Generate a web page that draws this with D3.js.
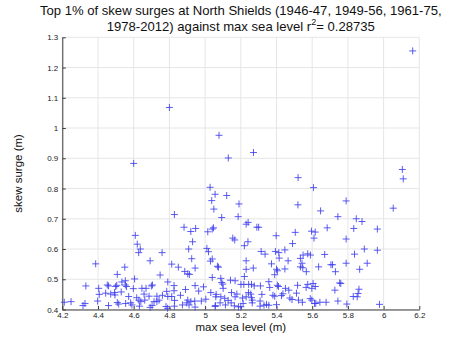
<!DOCTYPE html>
<html>
<head>
<meta charset="utf-8">
<script src="https://cdn.jsdelivr.net/npm/d3@7"></script>
<style>
  html, body { margin: 0; padding: 0; background: #fff; }
  svg { display: block; font-family: "Liberation Sans", Arial, sans-serif; }
</style>
</head>
<body>
<svg id="chart" width="465" height="350"></svg>
<script>
// Max sea level (m) of each event
const seaLevel = [
  4.600, 4.800, 5.078, 5.130, 6.163, 5.271, 5.521, 6.105, 6.110,
  5.607, 5.190, 5.520, 5.790, 6.054, 5.647, 5.185, 5.744, 5.847, 5.879,
  5.230, 5.241, 5.290, 5.300, 5.833, 5.965, 5.684, 5.505, 5.596, 5.617,
  5.398, 5.155, 5.166, 5.240, 5.220, 5.490, 5.610, 5.790, 5.447, 5.314,
  5.336, 5.394, 5.413, 5.892, 5.965, 5.575, 5.590, 5.549, 5.534, 5.670,
  5.837, 5.415, 5.465, 5.230, 5.372, 5.543, 5.705, 5.714, 5.790, 5.908,
  5.270, 5.230, 5.400, 5.405, 5.534, 5.547, 5.447, 5.636, 5.567, 5.730,
  5.866, 5.220, 5.390, 5.168, 5.357, 5.605, 5.754, 5.760, 5.201, 5.217,
  5.244, 5.260, 5.275, 5.310, 5.362, 5.405, 5.411, 5.450, 5.469, 5.518,
  5.566, 5.575, 5.598, 5.617, 5.727, 5.862, 5.857, 5.178, 5.168, 5.243,
  5.256, 5.260, 5.210, 5.230, 5.318, 5.380, 5.390, 5.428, 5.436, 5.475,
  5.487, 5.512, 5.523, 5.589, 5.598, 5.613, 5.620, 5.643, 5.678, 5.744,
  5.830, 5.852, 5.794, 5.977, 5.164, 5.187, 5.200, 5.213, 5.264, 5.264,
  5.308, 5.308, 5.330, 5.344, 5.357, 5.400, 5.545,
  5.028, 5.056, 5.037, 5.049, 5.121, 4.828, 5.093, 5.040, 5.047, 5.015,
  4.882, 4.947, 4.920, 4.609, 4.930, 4.620, 4.637, 4.628, 4.908, 5.010,
  5.019, 4.759, 4.387, 4.925, 5.040, 5.030, 4.813, 4.850, 4.550, 4.944,
  5.069, 5.075, 4.692, 4.886, 4.903, 4.912, 4.508, 4.748, 5.040, 5.088,
  5.142, 4.605, 4.534, 4.553, 4.332, 4.404, 4.452, 4.459, 4.499, 4.505,
  4.553, 4.560, 4.598, 4.646, 4.669, 4.699, 4.705, 4.791, 4.826, 4.826,
  4.944, 4.991, 5.093, 5.099, 5.101, 5.032, 5.062, 5.060, 4.407, 4.443,
  4.471, 4.493, 4.495, 4.530, 4.572, 4.617, 4.658, 4.686, 4.730, 4.761,
  4.785, 4.791, 4.813, 4.862, 4.890, 4.903, 4.942, 4.964, 5.004, 5.088,
  5.110, 5.129, 5.148, 4.211, 4.249, 4.316, 4.327, 4.398, 4.459, 4.508,
  4.516, 4.555, 4.583, 4.590, 4.629, 4.632, 4.640, 4.662, 4.692, 4.703,
  4.714, 4.730, 4.742, 4.781, 4.790, 4.829, 4.828, 4.873, 4.897, 4.910,
  4.920, 4.944, 4.979, 5.058, 5.084, 5.114, 5.146, 5.056
];

// Skew surge (m) of each event, same order as seaLevel
const skewSurge = [
  0.883, 1.068, 0.976, 0.901, 1.255, 0.919, 0.836, 0.863, 0.832,
  0.803, 0.749, 0.746, 0.759, 0.735, 0.726, 0.707, 0.707, 0.700, 0.691,
  0.682, 0.688, 0.672, 0.672, 0.668, 0.666, 0.670, 0.655, 0.659, 0.656,
  0.644, 0.636, 0.630, 0.624, 0.611, 0.618, 0.636, 0.633, 0.597, 0.592,
  0.583, 0.592, 0.588, 0.600, 0.596, 0.584, 0.580, 0.580, 0.569, 0.582,
  0.583, 0.570, 0.561, 0.561, 0.551, 0.553, 0.548, 0.548, 0.553, 0.553,
  0.537, 0.533, 0.533, 0.528, 0.541, 0.538, 0.534, 0.541, 0.525, 0.525,
  0.533, 0.509, 0.515, 0.495, 0.492, 0.486, 0.488, 0.486, 0.483, 0.483,
  0.483, 0.483, 0.478, 0.478, 0.473, 0.480, 0.476, 0.470, 0.464, 0.480,
  0.473, 0.483, 0.470, 0.476, 0.464, 0.467, 0.453, 0.451, 0.442, 0.456,
  0.451, 0.439, 0.438, 0.442, 0.450, 0.447, 0.444, 0.446, 0.452, 0.438,
  0.433, 0.454, 0.431, 0.436, 0.431, 0.420, 0.420, 0.424, 0.424, 0.428,
  0.443, 0.442, 0.418, 0.417, 0.412, 0.409, 0.409, 0.420, 0.431, 0.422,
  0.428, 0.411, 0.414, 0.417, 0.414, 0.416, 0.424,
  0.804, 0.781, 0.760, 0.732, 0.777, 0.714, 0.704, 0.666, 0.670, 0.657,
  0.672, 0.668, 0.658, 0.645, 0.624, 0.616, 0.600, 0.588, 0.600, 0.602,
  0.591, 0.588, 0.551, 0.568, 0.567, 0.560, 0.550, 0.540, 0.540, 0.537,
  0.543, 0.540, 0.561, 0.526, 0.518, 0.516, 0.516, 0.514, 0.506, 0.503,
  0.497, 0.501, 0.491, 0.495, 0.478, 0.470, 0.481, 0.478, 0.476, 0.480,
  0.481, 0.476, 0.469, 0.470, 0.470, 0.478, 0.481, 0.491, 0.479, 0.462,
  0.479, 0.475, 0.489, 0.484, 0.470, 0.456, 0.450, 0.442, 0.450, 0.454,
  0.451, 0.456, 0.448, 0.458, 0.443, 0.439, 0.451, 0.444, 0.444, 0.447,
  0.460, 0.443, 0.443, 0.447, 0.466, 0.431, 0.428, 0.461, 0.434, 0.442,
  0.437, 0.430, 0.456, 0.424, 0.426, 0.413, 0.420, 0.428, 0.413, 0.423,
  0.418, 0.420, 0.422, 0.415, 0.431, 0.411, 0.426, 0.431, 0.407, 0.413,
  0.426, 0.426, 0.431, 0.410, 0.404, 0.430, 0.411, 0.415, 0.422, 0.415,
  0.426, 0.408, 0.428, 0.413, 0.422, 0.415, 0.422, 0.410
];

const xTicks = [4.2, 4.4, 4.6, 4.8, 5.0, 5.2, 5.4, 5.6, 5.8, 6.0, 6.2];
const xTickLabels = ["4.2", "4.4", "4.6", "4.8", "5", "5.2", "5.4", "5.6", "5.8", "6", "6.2"];
const yTicks = [0.4, 0.5, 0.6, 0.7, 0.8, 0.9, 1.0, 1.1, 1.2, 1.3];
const yTickLabels = ["0.4", "0.5", "0.6", "0.7", "0.8", "0.9", "1", "1.1", "1.2", "1.3"];

const titleLines = [
  "Top 1% of skew surges at North Shields (1946-47, 1949-56, 1961-75,",
  "1978-2012) against max sea level r"
];
const rSquared = "0.28735";

const svg = d3.select("#chart");
const W = 465, H = 350;
const margin = { left: 62.3, right: 45.7, top: 37.3, bottom: 40.5 };
const iw = W - margin.left - margin.right;
const ih = H - margin.top - margin.bottom;

const x = d3.scaleLinear().domain([4.2, 6.2]).range([0, iw]);
const y = d3.scaleLinear().domain([0.4, 1.3]).range([ih, 0]);

const g = svg.append("g").attr("transform", `translate(${margin.left},${margin.top})`);

// grid
g.append("g").selectAll("line").data(xTicks).join("line")
  .attr("x1", d => x(d)).attr("x2", d => x(d))
  .attr("y1", 0).attr("y2", ih)
  .attr("stroke", "#e6e6e6").attr("stroke-width", 1);
g.append("g").selectAll("line").data(yTicks).join("line")
  .attr("x1", 0).attr("x2", iw)
  .attr("y1", d => y(d)).attr("y2", d => y(d))
  .attr("stroke", "#e6e6e6").attr("stroke-width", 1);

// axes (ticks pointing inward)
const fmtX = d => xTickLabels[xTicks.indexOf(d)];
const fmtY = d => yTickLabels[yTicks.indexOf(d)];

const xAxis = g.append("g").attr("transform", `translate(0,${ih})`)
  .call(d3.axisBottom(x).tickValues(xTicks).tickFormat(fmtX).tickSizeInner(-3.5).tickSizeOuter(0).tickPadding(3));
const yAxis = g.append("g")
  .call(d3.axisLeft(y).tickValues(yTicks).tickFormat(fmtY).tickSizeInner(-3.5).tickSizeOuter(0).tickPadding(4));

[xAxis, yAxis].forEach(a => {
  a.select(".domain").attr("stroke", "#3c3c3c").attr("stroke-width", 1);
  a.selectAll(".tick line").attr("stroke", "#3c3c3c");
  a.selectAll(".tick text").attr("fill", "#222").attr("font-size", 8)
    .attr("font-family", "'Liberation Sans', Arial, sans-serif");
});

// points as '+' markers
const data = seaLevel.map((v, i) => ({ x: v, y: skewSurge[i] }));
const s = 3.5;
g.append("g").selectAll("path").data(data).join("path")
  .attr("d", d => {
    const px = x(d.x), py = y(d.y);
    return `M${px - s},${py}H${px + s}M${px},${py - s}V${py + s}`;
  })
  .attr("stroke", "#4040f0").attr("stroke-opacity", 0.85)
  .attr("stroke-width", 1).attr("fill", "none");

// title
const title = svg.append("text").attr("text-anchor", "middle")
  .attr("font-size", 13.1).attr("fill", "#111");
title.append("tspan").attr("x", margin.left + iw / 2).attr("y", 14.5).text(titleLines[0]);
const l2 = title.append("tspan").attr("x", margin.left + iw / 2).attr("y", 30.5);
l2.append("tspan").text(titleLines[1]);
l2.append("tspan").attr("dy", -5.5).attr("font-size", 9).text("2");
l2.append("tspan").attr("dy", 5.5).text("= " + rSquared);

// axis labels
svg.append("text").attr("text-anchor", "middle")
  .attr("x", margin.left + iw / 2).attr("y", 331)
  .attr("font-size", 11.5).attr("fill", "#111").text("max sea level (m)");
svg.append("text").attr("text-anchor", "middle")
  .attr("transform", `translate(22,${margin.top + ih / 2}) rotate(-90)`)
  .attr("font-size", 11.5).attr("fill", "#111").text("skew surge (m)");
</script>
</body>
</html>
